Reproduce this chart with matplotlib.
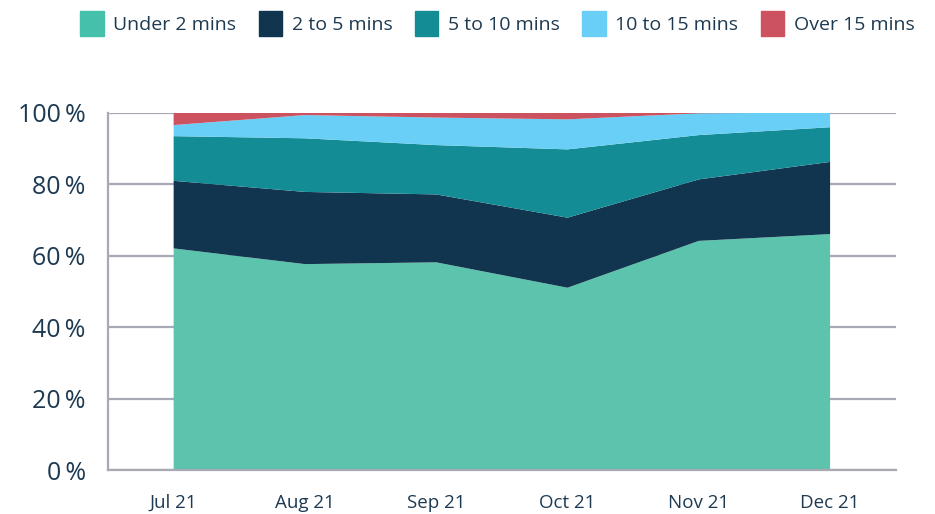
import matplotlib
matplotlib.use("Agg")
import matplotlib.pyplot as plt
import numpy as np

months = ["Jul 21", "Aug 21", "Sep 21", "Oct 21", "Nov 21", "Dec 21"]
under_2 = [62.0, 57.6, 58.1, 51.0, 64.1, 66.0]
two_to_5 = [18.9, 20.2, 19.0, 19.6, 17.2, 20.2]
five_to_10 = [12.5, 15.0, 13.8, 19.1, 12.4, 9.7]
ten_to_15 = [3.1, 6.5, 7.7, 8.4, 6.1, 4.1]
over_15 = [3.5, 0.7, 1.4, 1.9, 0.2, 0.0]

labels = ["Under 2 mins", "2 to 5 mins", "5 to 10 mins", "10 to 15 mins", "Over 15 mins"]
colors = ["#5cc3ad", "#12354f", "#138c96", "#6acff6", "#cd5260"]
legend_colors = ["#45c1ab", "#12354f", "#138c96", "#6acff6", "#cd5260"]
text_color = "#1d3a52"
grid_color = "#a7aab5"

plt.rcParams["font.family"] = ["Open Sans", "DejaVu Sans"]

fig = plt.figure(figsize=(9.35, 5.14), dpi=100)
ax = fig.add_axes([0.1155, 0.0856, 0.958 - 0.1155, 0.781 - 0.0856])

x = np.arange(len(months))
ax.stackplot(x, under_2, two_to_5, five_to_10, ten_to_15, over_15,
             colors=colors, linewidth=0, zorder=2)

ax.set_xlim(-0.5, len(months) - 0.5)
ax.set_ylim(0, 100)
ax.set_yticks([0, 20, 40, 60, 80, 100])
ax.set_yticklabels([f"{v}\u2009%" for v in [0, 20, 40, 60, 80, 100]],
                   fontsize=18, color=text_color)
ax.set_xticks(x)
ax.set_xticklabels(months, fontsize=13.5, color=text_color)
ax.tick_params(axis="both", length=0)
ax.tick_params(axis="x", pad=17)
ax.tick_params(axis="y", pad=16)

ax.grid(axis="y", color=grid_color, linewidth=1.6, zorder=1)
for side in ["top", "right"]:
    ax.spines[side].set_visible(False)
ax.spines["left"].set_color(grid_color)
ax.spines["left"].set_linewidth(1.6)
ax.spines["bottom"].set_color(grid_color)
ax.spines["bottom"].set_linewidth(1.6)

handles = [plt.Rectangle((0, 0), 1, 1, color=c) for c in legend_colors]
leg = fig.legend(handles, labels, ncol=5, loc="upper center",
                 bbox_to_anchor=(0.532, 1.012), frameon=False,
                 fontsize=14, handlelength=1.2, handleheight=1.6,
                 handletextpad=0.5, columnspacing=1.15)
for t in leg.get_texts():
    t.set_color(text_color)

fig.savefig("out.png", dpi=100)
